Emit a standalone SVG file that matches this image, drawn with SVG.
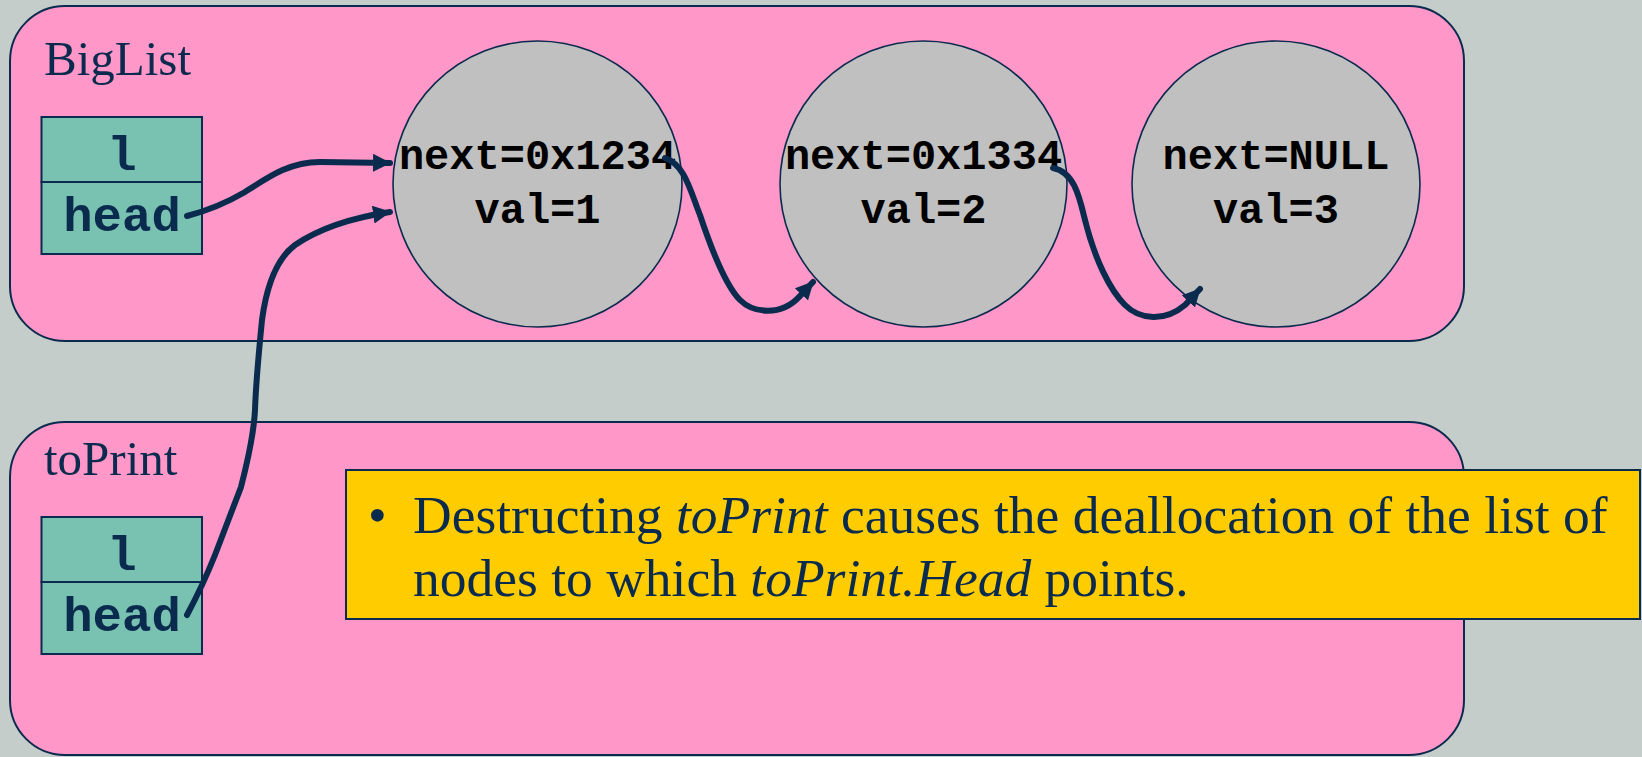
<svg xmlns="http://www.w3.org/2000/svg" width="1642" height="757" viewBox="0 0 1642 757">
  <style>
    .frame { fill: #ff97c8; stroke: #0b2b4e; stroke-width: 2; }
    .cell { fill: #79c1b1; stroke: #0b2b4e; stroke-width: 2; }
    .node { fill: #c0c0c0; stroke: #0b2b4e; stroke-width: 1.6; }
    .title { font-family: "Liberation Serif", "Times New Roman", serif; font-size: 49px; fill: #0b2b4e; }
    .field { font-family: "Liberation Mono", "Courier New", monospace; font-weight: bold; font-size: 49px; fill: #0b2b4e; text-anchor: middle; }
    .val { font-family: "Liberation Mono", "Courier New", monospace; font-weight: bold; font-size: 42px; fill: #000; text-anchor: middle; }
    .note { font-family: "Liberation Serif", "Times New Roman", serif; font-size: 53.5px; fill: #0b2b4e; }
    .link { fill: none; stroke: #0b2b4e; stroke-width: 6; stroke-linecap: round; marker-end: url(#head); }
  </style>
  <defs>
    <marker id="head" markerUnits="userSpaceOnUse" markerWidth="20" markerHeight="20" refX="17" refY="9" orient="auto">
      <path d="M0,0 L18,9 L0,18 z" fill="#0b2b4e"/>
    </marker>
  </defs>

  <rect width="1642" height="757" fill="#c4cdc9"/>

  <!-- BigList object -->
  <g id="biglist">
    <rect class="frame" x="10" y="6" width="1454" height="335" rx="55" ry="55"/>
    <text class="title" x="44" y="75">BigList</text>
  </g>

  <!-- toPrint object -->
  <g id="toprint">
    <rect class="frame" x="10" y="422" width="1454" height="333" rx="55" ry="55"/>
    <text class="title" x="44" y="475">toPrint</text>
  </g>

  <!-- member fields of BigList -->
  <g id="biglist-fields">
    <rect class="cell" x="41.5" y="117" width="160.5" height="65"/>
    <rect class="cell" x="41.5" y="182" width="160.5" height="72"/>
    <text class="field" x="122" y="170">l</text>
    <text class="field" x="122" y="231">head</text>
  </g>

  <!-- member fields of toPrint -->
  <g id="toprint-fields">
    <rect class="cell" x="41.5" y="517" width="160.5" height="65"/>
    <rect class="cell" x="41.5" y="582" width="160.5" height="72"/>
    <text class="field" x="122" y="570">l</text>
    <text class="field" x="122" y="631">head</text>
  </g>

  <!-- list nodes -->
  <g id="node1">
    <ellipse class="node" cx="537.5" cy="184" rx="144.5" ry="143"/>
    <text class="val" x="537.5" y="169">next=0x1234</text>
    <text class="val" x="537.5" y="223">val=1</text>
  </g>
  <g id="node2">
    <ellipse class="node" cx="923.5" cy="184" rx="143.5" ry="143"/>
    <text class="val" x="923.5" y="169">next=0x1334</text>
    <text class="val" x="923.5" y="223">val=2</text>
  </g>
  <g id="node3">
    <ellipse class="node" cx="1276" cy="184" rx="144" ry="143"/>
    <text class="val" x="1276" y="169">next=NULL</text>
    <text class="val" x="1276" y="223">val=3</text>
  </g>

  <!-- explanatory note -->
  <g id="note">
    <rect x="346" y="470" width="1294" height="149" fill="#ffcc00" stroke="#0b2b4e" stroke-width="2"/>
    <text class="note" x="368" y="533">•</text>
    <text class="note" x="413" y="533">Destructing <tspan font-style="italic">toPrint</tspan> causes the deallocation of the list of</text>
    <text class="note" x="413" y="596">nodes to which <tspan font-style="italic">toPrint.Head</tspan> points.</text>
  </g>

  <!-- pointers -->
  <g id="connectors">
    <path class="link" d="M187,216 C210,210 228,202 245,192 C270,176 290,162 320,162 L390,163"/>
    <path class="link" d="M187,615 C195,600 205,580 215,555 L241,487 C248,460 254,430 255,410 C256,380 259,350 262,320 C266,290 275,260 295,245 C320,228 350,218 390,212"/>
    <path class="link" d="M665,158 C685,165 690,190 700,215 C710,245 725,285 740,300 C752,312 780,318 800,296 L813,282"/>
    <path class="link" d="M1053,168 C1075,172 1080,200 1085,220 C1095,260 1110,290 1125,305 C1140,320 1165,322 1185,305 L1200,289"/>
  </g>
</svg>
